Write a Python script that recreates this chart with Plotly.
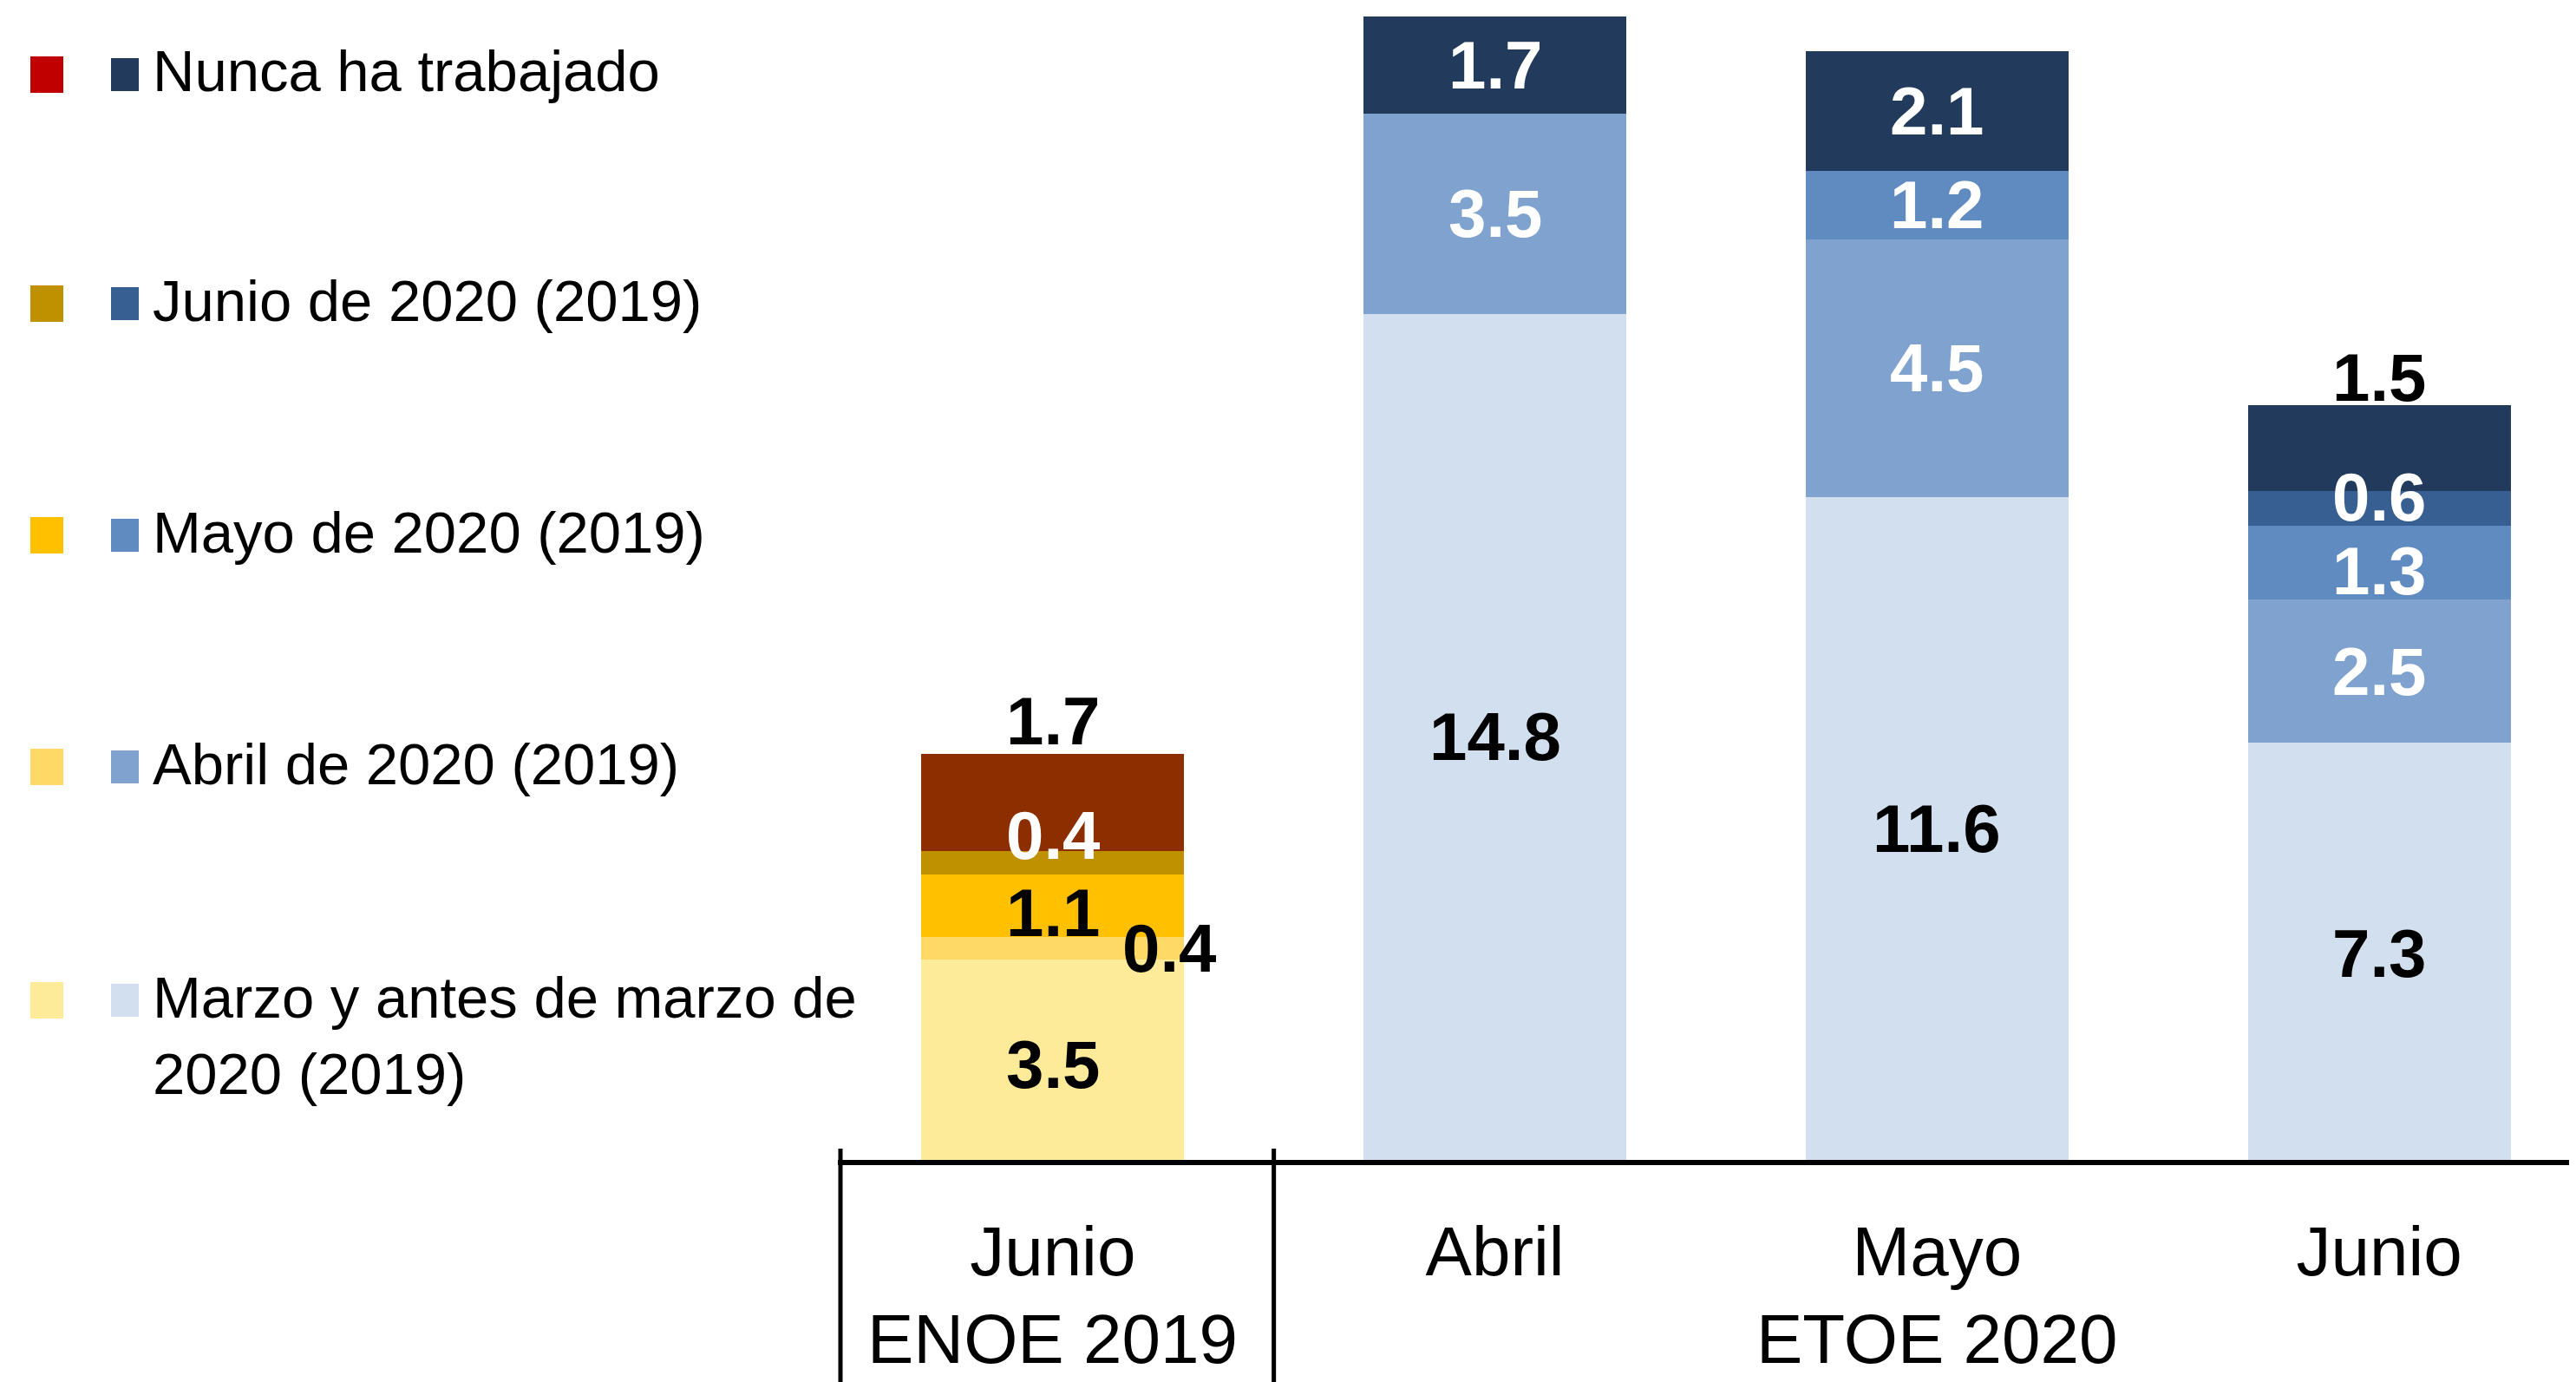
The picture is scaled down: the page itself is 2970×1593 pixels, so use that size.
import plotly.graph_objects as go

# ---------------- data ----------------
x_pos = [0, 1, 2, 3]
month_labels = ["Junio", "Abril", "Mayo", "Junio"]
survey_labels = ["ENOE 2019", "ETOE 2020"]
survey_pos = [0, 2]

series_names = [
    "Marzo y antes de marzo de 2020 (2019)",
    "Abril de 2020 (2019)",
    "Mayo de 2020 (2019)",
    "Junio de 2020 (2019)",
    "Nunca ha trabajado",
]
marzo = [3.5, 14.8, 11.6, 7.3]
abril = [0.4, 3.5, 4.5, 2.5]
mayo = [1.1, None, 1.2, 1.3]
junio = [0.4, None, None, 0.6]
nunca = [1.7, 1.7, 2.1, 1.5]
series_values = [marzo, abril, mayo, junio, nunca]

# ---------------- styles ----------------
colors_2019 = ["#FEEB9A", "#FFD966", "#FFC000", "#BF9000", "#8C2E00"]
colors_2020 = ["#D2DFEE", "#7FA3CE", "#608BC1", "#375F91", "#223A5C"]
legend_left = ["#FEEB9A", "#FFD966", "#FFC000", "#BF9000", "#C00000"]
bar_palette = [colors_2019, colors_2020, colors_2020, colors_2020]

label_colors = [
    ["black", "black", "black", "black"],
    ["black", "white", "white", "white"],
    ["black", None, "white", "white"],
    ["white", None, None, "white"],
    ["black", "white", "white", "black"],
]
# (dx px, dy px up, anchor) per label
label_shift = [
    [(0, -5, "c"), (0, 0, "c"), (0, 0, "c"), (0, -3, "c")],
    [(134, 0, "c"), (0, 0, "c"), (0, 0, "c"), (0, 0, "c")],
    [(0, -8, "c"), None, (0, 0, "c"), (0, -10, "c")],
    [(0, 31, "c"), None, None, (0, 13, "c")],
    [(0, 38, "t"), (0, 0, "c"), (0, 0, "c"), (0, 32, "t")],
]

FONT = "Liberation Sans Narrow, Arial Narrow, Liberation Sans, Arial, sans-serif"
OFF = 8  # page body margin
W, H = 2970, 1593
L, T = 958, 0
PH = 1329
B = H - T - PH
R = 0
PW = W - L - R
PX_PER_UNIT_X = 509.8
PX_PER_UNIT_Y = 65.9
X0 = -0.486
X1 = X0 + PW / PX_PER_UNIT_X
Y1 = PH / PX_PER_UNIT_Y


def px_x(px):
    return (px - OFF - L) / PW


def px_y(py):
    return (T + PH - (py - OFF)) / PH


fig = go.Figure()

for si, (name, vals) in enumerate(zip(series_names, series_values)):
    fig.add_trace(go.Bar(
        x=x_pos,
        y=vals,
        name=name,
        width=0.594,
        marker=dict(color=[bar_palette[i][si] for i in range(len(x_pos))], line=dict(width=0)),
        showlegend=False,
        hoverinfo="skip",
    ))

# value labels
base = [0.0] * len(x_pos)
annotations = []
for si, vals in enumerate(series_values):
    for i, v in enumerate(vals):
        if v is None:
            continue
        dx, dy, anc = label_shift[si][i]
        yv = base[i] + v if anc == "t" else base[i] + v / 2
        annotations.append(dict(
            x=x_pos[i], y=yv, xref="x", yref="y",
            text=f"<b>{v:.1f}</b>", showarrow=False,
            xanchor="center", yanchor="middle",
            xshift=dx, yshift=dy,
            font=dict(family=FONT, size=78, color=label_colors[si][i]),
        ))
        base[i] += v

# survey labels (second line under months)
for lab, xp in zip(survey_labels, survey_pos):
    annotations.append(dict(
        x=xp, y=px_y(1544), xref="x", yref="paper",
        text=lab, showarrow=False, xanchor="center", yanchor="middle",
        font=dict(family=FONT, size=80, color="black"),
    ))

# custom legend
legend_rows = [4, 3, 2, 1, 0]
row_y = [86, 350, 617, 884, 1153]
shapes = []
for si, cy in zip(legend_rows, row_y):
    shapes.append(dict(type="rect", xref="paper", yref="paper",
                       x0=px_x(35), x1=px_x(73), y0=px_y(cy + 21), y1=px_y(cy - 21),
                       fillcolor=legend_left[si], line=dict(width=0)))
    shapes.append(dict(type="rect", xref="paper", yref="paper",
                       x0=px_x(128), x1=px_x(160), y0=px_y(cy + 19), y1=px_y(cy - 19),
                       fillcolor=colors_2020[si], line=dict(width=0)))
legend_text = {
    4: ["Nunca ha trabajado"],
    3: ["Junio de 2020 (2019)"],
    2: ["Mayo de 2020 (2019)"],
    1: ["Abril de 2020 (2019)"],
    0: ["Marzo y antes de marzo de", "2020 (2019)"],
}
for si, cy in zip(legend_rows, row_y):
    for li, line in enumerate(legend_text[si]):
        annotations.append(dict(
            x=px_x(174), y=px_y(cy - 4 + li * 88), xref="paper", yref="paper",
            text=line, showarrow=False, xanchor="left", yanchor="middle",
            font=dict(family=FONT, size=67, color="black"),
        ))

# separators under the axis
for xs in [X0 + 3 / PX_PER_UNIT_X, 0.5]:
    shapes.append(dict(type="line", xref="x", yref="paper",
                       x0=xs, x1=xs, y0=px_y(1324), y1=px_y(H + 20),
                       line=dict(color="black", width=5)))

fig.update_layout(
    barmode="stack",
    width=W, height=H,
    margin=dict(l=L, r=R, t=T, b=B, pad=0),
    paper_bgcolor="white", plot_bgcolor="white",
    annotations=annotations,
    shapes=shapes,
    showlegend=False,
    xaxis=dict(
        range=[X0, X1],
        tickvals=x_pos, ticktext=month_labels,
        showline=True, linecolor="black", linewidth=6,
        showgrid=False, zeroline=False, ticks="",
        tickfont=dict(family=FONT, size=80, color="black"),
        ticklabelstandoff=31,
        fixedrange=True,
    ),
    yaxis=dict(
        range=[0, Y1], visible=False, showgrid=False, zeroline=False,
        fixedrange=True,
    ),
)

fig.write_html("out.html")
